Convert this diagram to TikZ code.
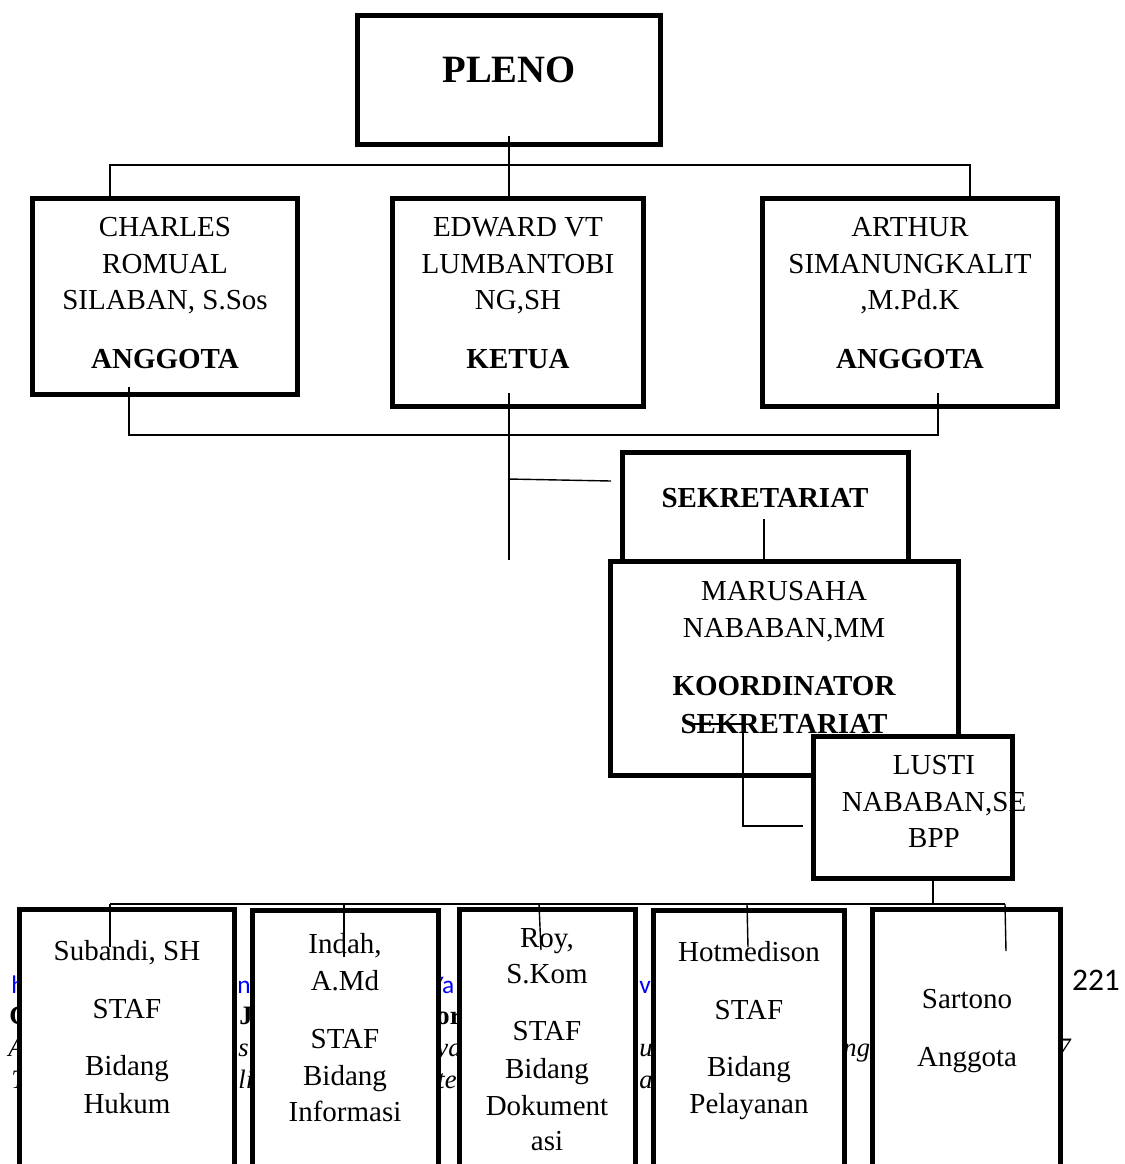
\documentclass[tikz,border=0pt]{standalone}
\usepackage{fontspec}
\setmainfont{Liberation Serif}
\newfontfamily\carlito{Carlito}
\newdimen\pxu \pxu=0.4138pt
\definecolor{linkblue}{RGB}{0,0,255}
\begin{document}
\begin{tikzpicture}[x=0.4138pt,y=-0.4138pt,
  box/.style={draw, line width=5\pxu, fill=white, rectangle, inner sep=0pt},
  conn/.style={line width=1.4\pxu},
  txt/.style={anchor=base, inner sep=0pt, font=\fontsize{12}{14}\selectfont},
  btxt/.style={anchor=base, inner sep=0pt, font=\fontsize{12}{14}\selectfont\bfseries},
  frag/.style={anchor=base west, inner sep=0pt},
  fragblue/.style={frag, text=linkblue, font=\carlito\fontsize{10.5}{12}\selectfont},
  fragbold/.style={frag, font=\fontsize{11}{13}\selectfont\bfseries},
  fragit/.style={frag, font=\fontsize{11}{13}\selectfont\itshape}]
\useasboundingbox (0,0) rectangle (1124,1164);
\clip (0,0) rectangle (1124,1164);
\fill[white] (0,0) rectangle (1124,1164);

% background page text peeking between the bottom boxes
\node[fragblue] (f1) at (11,993) {h};
\node[fragblue] (f2) at (237,993) {n};
\node[fragblue] (f3) at (431,993) {Ya};
\node[fragblue] (f4) at (639,993) {v};
\node[fragbold] (f5) at (9,1024) {C};
\node[fragbold] (f6) at (239,1024) {J};
\node[fragbold] (f7) at (436,1024) {or};
\node[fragit] (f8) at (8,1056) {A};
\node[fragit] (f9) at (238,1056) {s};
\node[fragit] (f10) at (436,1056) {ya};
\node[fragit] (f11) at (639,1056) {u};
\node[fragit] (f12) at (843,1056) {ng};
\node[fragit] (f13) at (1057,1056) {7};
\node[fragit] (f14) at (11,1088) {T};
\node[fragit] (f15) at (238,1088) {li};
\node[fragit] (f16) at (437,1088) {te};
\node[fragit] (f17) at (639,1088) {a};
\node[anchor=base, inner sep=0pt, font=\carlito\fontsize{13}{15}\selectfont] (page) at (1096,990) {221};

% PLENO
\node[box, minimum width=303\pxu, minimum height=129\pxu] (pleno) at (509,80) {};
\node[btxt, font=\fontsize{16}{18}\selectfont\bfseries] (tpleno) at (509,82) {PLENO};

% second row
\node[box, minimum width=265\pxu, minimum height=196\pxu] (charles) at (165,296.5) {};
\node[txt] (c1) at (165,236) {CHARLES};
\node[txt] (c2) at (165,273) {ROMUAL};
\node[txt] (c3) at (165,309) {SILABAN, S.Sos};
\node[btxt] (c4) at (165,368) {ANGGOTA};

\node[box, minimum width=251\pxu, minimum height=208\pxu] (edward) at (518,302.5) {};
\node[txt] (e1) at (518,236) {EDWARD VT};
\node[txt] (e2) at (518,273) {LUMBANTOBI};
\node[txt] (e3) at (518,309) {NG,SH};
\node[btxt] (e4) at (518,368) {KETUA};

\node[box, minimum width=295\pxu, minimum height=208\pxu] (arthur) at (910,302.5) {};
\node[txt] (a1) at (910,236) {ARTHUR};
\node[txt] (a2) at (910,273) {SIMANUNGKALIT};
\node[txt] (a3) at (910,309) {,M.Pd.K};
\node[btxt] (a4) at (910,368) {ANGGOTA};

% sekretariat
\node[box, minimum width=286\pxu, minimum height=115\pxu] (sekr) at (765.5,510) {};
\node[btxt] (s1) at (765,507) {SEKRETARIAT};

\node[box, minimum width=348\pxu, minimum height=214\pxu] (marusaha) at (784.5,668.5) {};
\node[txt] (m1) at (784,600) {MARUSAHA};
\node[txt] (m2) at (784,637) {NABABAN,MM};
\node[btxt] (m3) at (784,695) {KOORDINATOR};
\node[btxt] (m4) at (784,733) {SEKRETARIAT};

\node[box, minimum width=199\pxu, minimum height=142\pxu] (lusti) at (913,807.5) {};
\node[txt] (l1) at (934,774) {LUSTI};
\node[txt] (l2) at (934,811) {NABABAN,SE};
\node[txt] (l3) at (934,847) {BPP};

% staff row
\node[box, minimum width=215\pxu, minimum height=268\pxu] (b1) at (127,1043.5) {};
\node[txt] (b1a) at (127,960) {Subandi, SH};
\node[txt] (b1b) at (127,1018) {STAF};
\node[txt] (b1c) at (127,1075) {Bidang};
\node[txt] (b1d) at (127,1113) {Hukum};

\node[box, minimum width=186\pxu, minimum height=267\pxu] (b2) at (345.5,1044) {};
\node[txt] (b2a) at (345,953) {Indah,};
\node[txt] (b2b) at (345,990) {A.Md};
\node[txt] (b2c) at (345,1048) {STAF};
\node[txt] (b2d) at (345,1085) {Bidang};
\node[txt] (b2e) at (345,1121) {Informasi};

\node[box, minimum width=176\pxu, minimum height=268\pxu] (b3) at (547.5,1043.5) {};
\node[txt] (b3a) at (547,947) {Roy,};
\node[txt] (b3b) at (547,983) {S.Kom};
\node[txt] (b3c) at (547,1040) {STAF};
\node[txt] (b3d) at (547,1078) {Bidang};
\node[txt] (b3e) at (547,1115) {Dokument};
\node[txt] (b3f) at (547,1150) {asi};

\node[box, minimum width=191\pxu, minimum height=267\pxu] (b4) at (749,1044) {};
\node[txt] (b4a) at (749,961) {Hotmedison};
\node[txt] (b4b) at (749,1019) {STAF};
\node[txt] (b4c) at (749,1076) {Bidang};
\node[txt] (b4d) at (749,1113) {Pelayanan};

\node[box, minimum width=188\pxu, minimum height=268\pxu] (b5) at (966.5,1043.5) {};
\node[txt] (b5a) at (967,1008) {Sartono};
\node[txt] (b5b) at (967,1066) {Anggota};

% connectors
\coordinate (pl) at (509,136);
\draw[conn] (pl) -- (pl |- edward.north);
\coordinate (busL) at (110,165);
\coordinate (busR) at (970,165);
\draw[conn] (busL |- charles.north) -- (busL) -- (busR) -- (busR |- arthur.north);

\coordinate (lowL) at (129,387);
\coordinate (lowR) at (938,393);
\coordinate (lowY) at (0,435);
\draw[conn] (lowL) -- (lowL |- lowY) -- (lowR |- lowY) -- (lowR);
\coordinate (ketA) at (509,393);
\coordinate (ketB) at (509,560);
\draw[conn] (ketA) -- (ketB);
\coordinate (brA) at (508,479);
\coordinate (brB) at (611,481);
\draw[conn] (brA) -- (brB);

\coordinate (sk) at (764,519);
\draw[conn] (sk) -- (sk |- marusaha.north);

\coordinate (ml1) at (693,724);
\coordinate (ml2) at (743,826);
\coordinate (ml3) at (803,826);
\draw[conn] (ml1) -| (ml2) -- (ml3);

\coordinate (lb) at (933,876);
\coordinate (sb) at (933,904);
\draw[conn] (lb) -- (sb);
\coordinate (s1t) at (110,904);
\coordinate (s2t) at (344,904);
\coordinate (s3t) at (539,904);
\coordinate (s4t) at (747,904);
\coordinate (s5t) at (1005,904);
\draw[conn] (s1t) -- (s5t);
\coordinate (s1e) at (110,947);
\coordinate (s2e) at (344,957);
\coordinate (s3e) at (541,950);
\coordinate (s4e) at (748,947);
\coordinate (s5e) at (1006,951);
\draw[conn] (s1t) -- (s1e);
\draw[conn] (s2t) -- (s2e);
\draw[conn] (s3t) -- (s3e);
\draw[conn] (s4t) -- (s4e);
\draw[conn] (s5t) -- (s5e);
\end{tikzpicture}
\end{document}
